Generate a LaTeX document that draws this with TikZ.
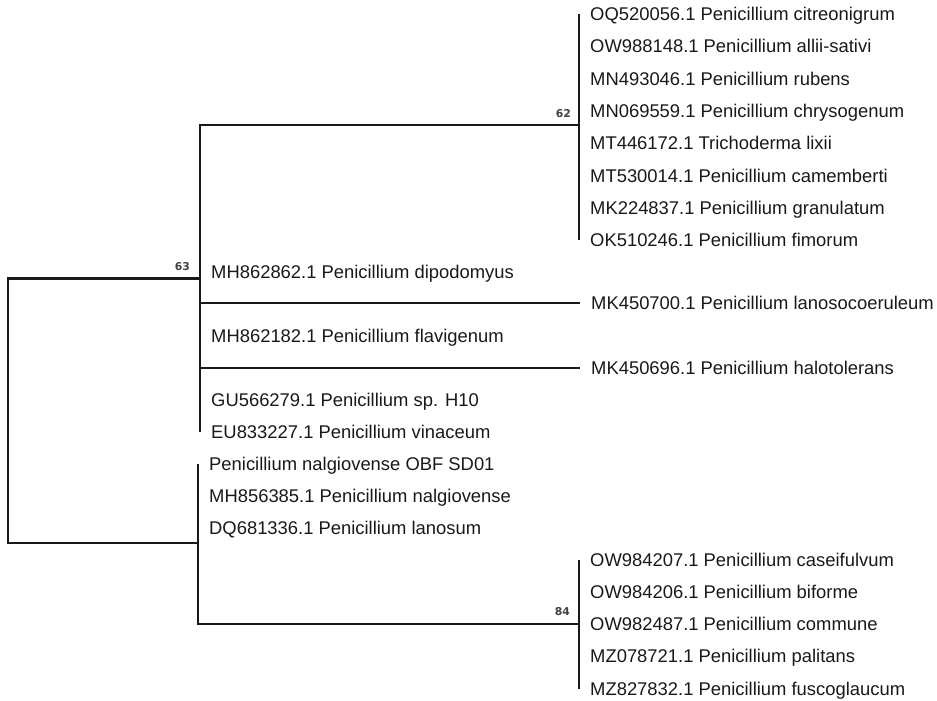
\documentclass[tikz,border=0pt]{standalone}
\usepackage{fontspec}
\setmainfont{Liberation Sans}
\newfontfamily\bsfont{DejaVu Sans}
\begin{document}
\begin{tikzpicture}[x=1pt,y=-1pt,
  branch/.style={line width=2.8pt, draw=black!90},
  leaf/.style={anchor=west, inner xsep=11pt, inner ysep=0pt, text height=13.2pt, text depth=0pt, font=\fontsize{18.4}{20}\selectfont, text=black!90},
  boot/.style={anchor=east, inner sep=0pt, font=\bsfont\bfseries\fontsize{10.8}{12}\selectfont, text=black!75}]
\useasboundingbox (0,0) rectangle (937,701);
% internal nodes
\coordinate (root) at (8,410.5);
\coordinate (n63) at (200,278.5);
\coordinate (nlow) at (198,543);
\coordinate (n62) at (579,125);
\coordinate (n84) at (579,624);
\coordinate (u303) at (200,303);
\coordinate (u368) at (200,368);
% clade 62 leaves
\node[leaf] (oq) at (579,14) {OQ520056.1 Penicillium citreonigrum};
\node[leaf] (ow148) at (579,46.3) {OW988148.1 Penicillium allii-sativi};
\node[leaf] (mn493) at (579,78.6) {MN493046.1 Penicillium rubens};
\node[leaf] (mn069) at (579,110.9) {MN069559.1 Penicillium chrysogenum};
\node[leaf] (mt446) at (579,143.2) {MT446172.1 Trichoderma lixii};
\node[leaf] (mt530) at (579,175.5) {MT530014.1 Penicillium camemberti};
\node[leaf] (mk224) at (579,207.8) {MK224837.1 Penicillium granulatum};
\node[leaf] (ok) at (579,240) {OK510246.1 Penicillium fimorum};
% clade 63 other leaves
\node[leaf] (mh862) at (200,272) {MH862862.1 Penicillium dipodomyus};
\node[leaf] (mk700) at (580,303) {MK450700.1 Penicillium lanosocoeruleum};
\node[leaf] (mh182) at (200,336) {MH862182.1 Penicillium flavigenum};
\node[leaf] (mk696) at (580,368) {MK450696.1 Penicillium halotolerans};
\node[leaf] (gu) at (200,400) {GU566279.1 Penicillium sp. H10};
\node[leaf] (eu) at (200,432) {EU833227.1 Penicillium vinaceum};
% lower clade leaves
\node[leaf] (pn) at (198,463.5) {Penicillium nalgiovense OBF SD01};
\node[leaf] (mh856) at (198,495.5) {MH856385.1 Penicillium nalgiovense};
\node[leaf] (dq) at (198,527.5) {DQ681336.1 Penicillium lanosum};
% clade 84 leaves
\node[leaf] (ow207) at (579,559.5) {OW984207.1 Penicillium caseifulvum};
\node[leaf] (ow206) at (579,591.75) {OW984206.1 Penicillium biforme};
\node[leaf] (ow487) at (579,624) {OW982487.1 Penicillium commune};
\node[leaf] (mz078) at (579,656.25) {MZ078721.1 Penicillium palitans};
\node[leaf] (mz827) at (579,688.5) {MZ827832.1 Penicillium fuscoglaucum};
% bootstrap values
\node[boot] (b62) at (571,114) {62};
\node[boot] (b63) at (190,266.5) {63};
\node[boot] (b84) at (570,612) {84};
% branches
\draw[branch] (root) |- (n63);
\draw[branch] (root) |- (nlow);
\draw[branch] (n63) |- (n62);
\draw[branch] (n63) -- (eu.west);
\draw[branch] (oq.west) -- (ok.west);
\draw[branch] (u303) -- (mk700.west);
\draw[branch] (u368) -- (mk696.west);
\draw[branch] (pn.west) -- (nlow);
\draw[branch] (nlow) |- (n84);
\draw[branch] (ow207.west) -- (mz827.west);
\end{tikzpicture}
\end{document}
